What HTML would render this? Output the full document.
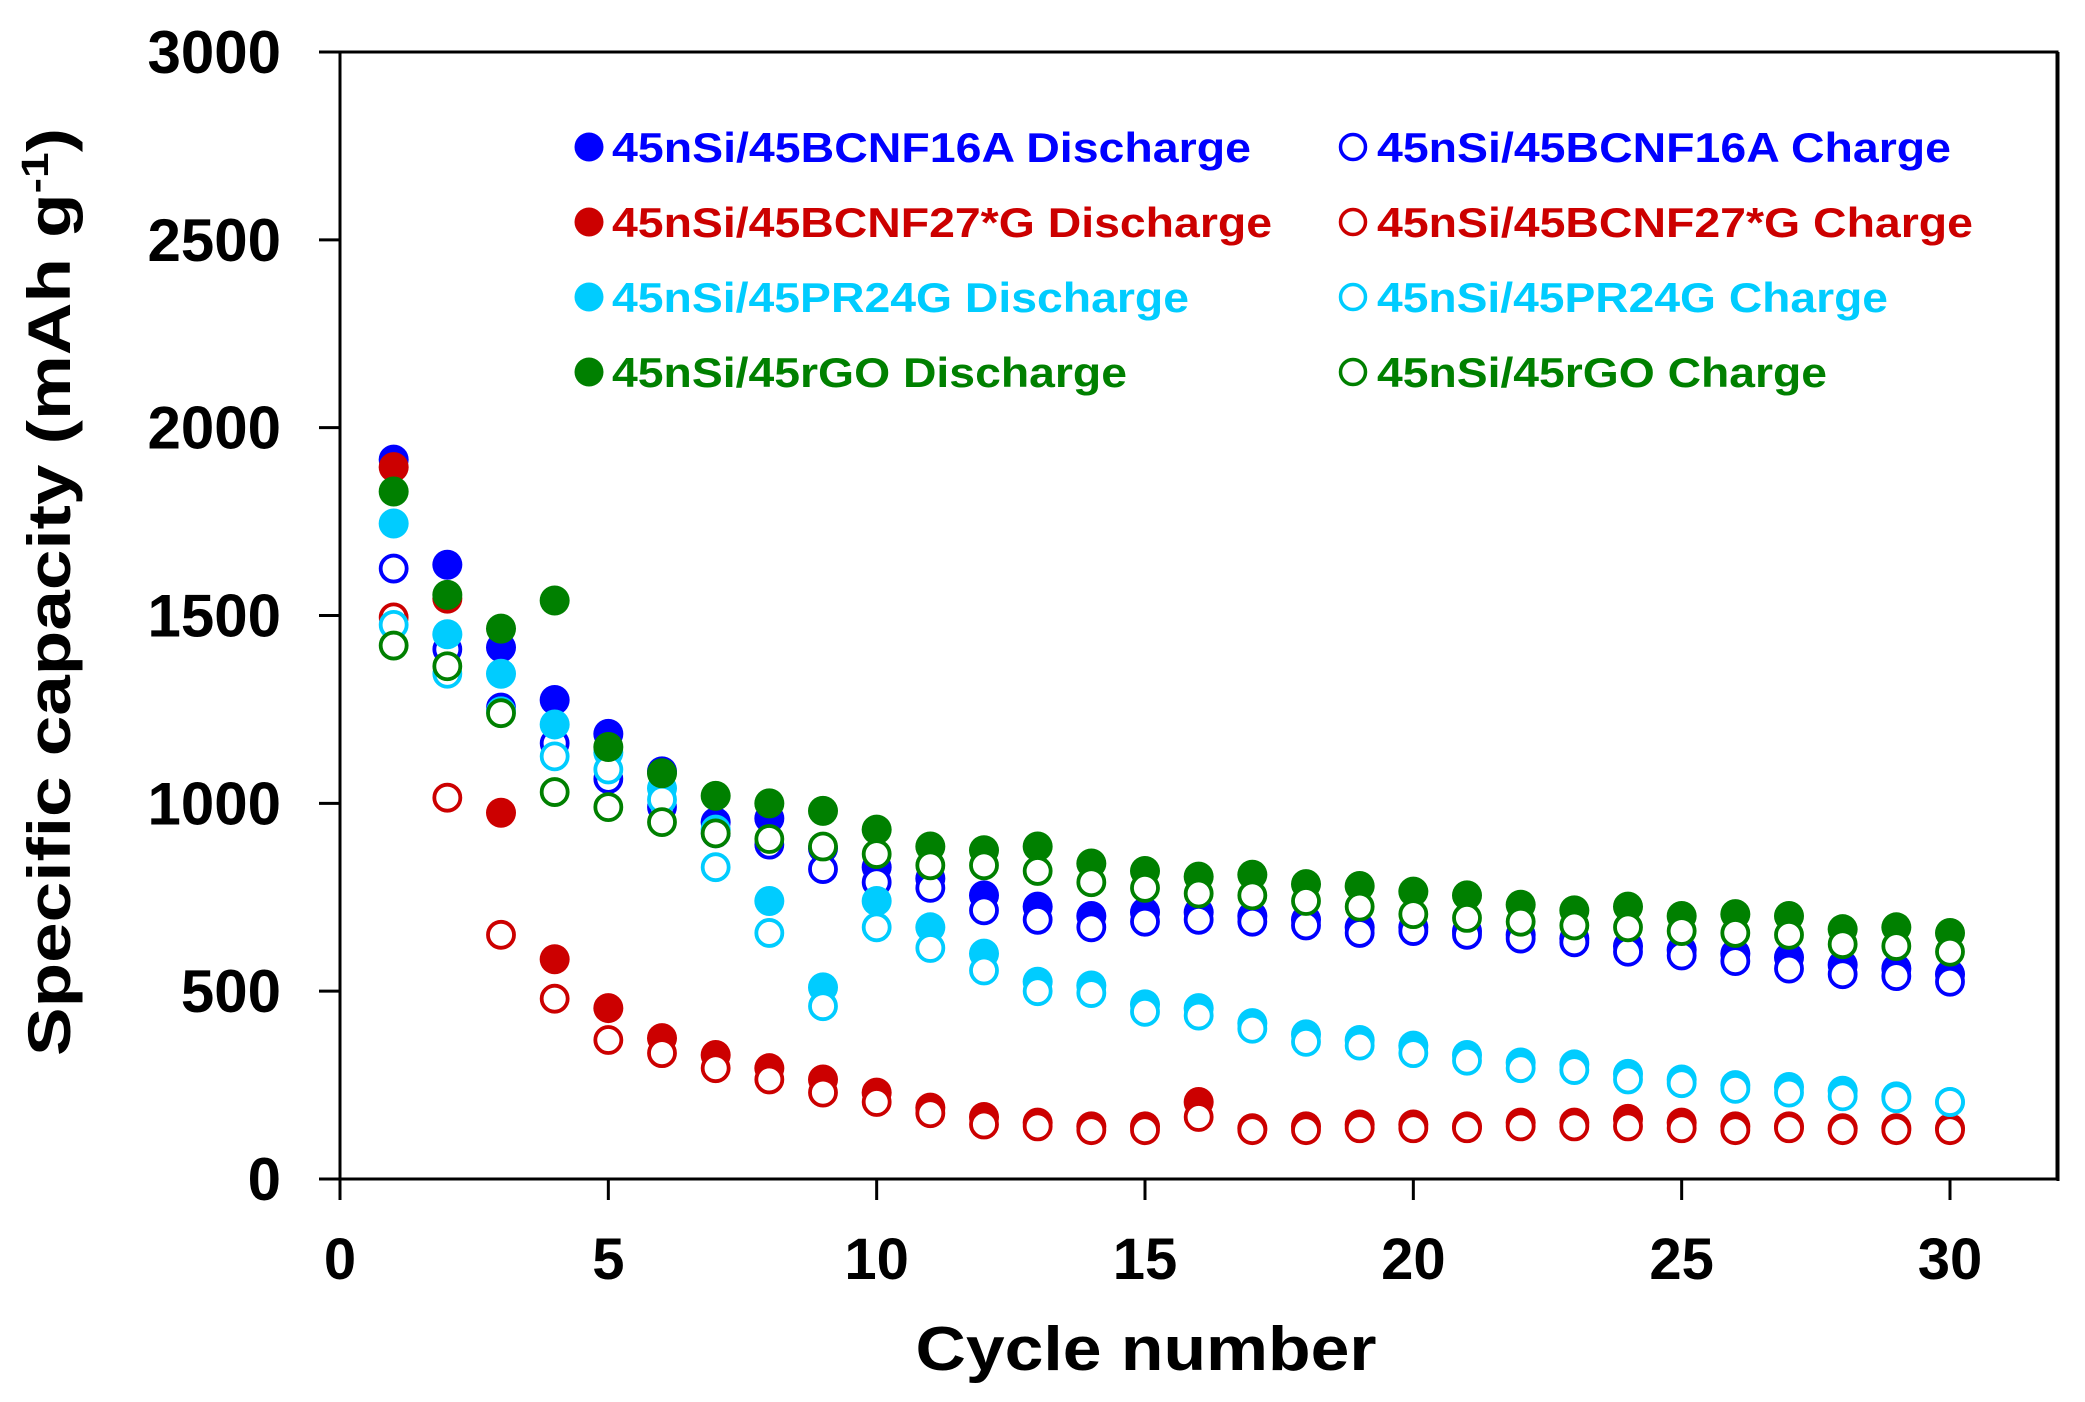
<!DOCTYPE html>
<html><head><meta charset="utf-8"><style>
html,body{margin:0;padding:0;background:#fff;}
svg{display:block;font-family:"Liberation Sans",Arial,sans-serif;font-weight:bold;}
</style></head><body>
<svg id="chart" width="2085" height="1402" viewBox="0 0 2085 1402" xmlns="http://www.w3.org/2000/svg">
<g id="axes"></g>
<g id="marks"></g>
<g id="legend"></g>
</svg>
<script>
const cycles = Array.from({length:30},(_,i)=>i+1);
const blueDis = [1915,1635,1415,1275,1185,1085,950,960,880,830,800,755,725,700,710,710,700,690,670,670,660,650,640,620,610,600,590,570,560,545];
const blueChg = [1625,1410,1255,1160,1065,990,920,890,825,790,775,715,690,670,685,690,685,675,655,660,650,640,630,605,595,580,560,545,540,525];
const redDis = [1895,1545,975,585,455,375,330,295,265,230,190,165,150,140,140,205,135,140,145,145,140,150,150,160,150,140,140,135,135,135];
const redChg = [1495,1015,650,480,370,335,295,265,230,205,175,145,140,130,130,165,130,130,135,135,135,140,140,140,135,130,135,130,130,130];
const cyanDis = [1745,1450,1345,1210,1135,1040,930,740,510,740,670,600,525,515,465,455,415,385,370,355,330,310,305,280,265,250,245,235,220,205];
const cyanChg = [1475,1345,1245,1125,1090,1010,830,655,460,670,615,555,500,495,445,435,400,365,355,335,315,295,290,265,255,240,230,220,215,205];
const greenDis = [1830,1555,1465,1540,1150,1080,1020,1000,980,930,885,875,885,840,820,805,810,785,780,765,755,730,715,725,700,705,700,665,670,655];
const greenChg = [1420,1365,1240,1030,990,950,920,905,885,865,835,835,820,790,775,760,755,740,725,705,695,685,675,670,660,655,650,625,620,605];
const xTicks = [0,5,10,15,20,25,30];
const yTicks = [0,500,1000,1500,2000,2500,3000];
const legendLabels = ["45nSi/45BCNF16A Discharge","45nSi/45BCNF16A Charge","45nSi/45BCNF27*G Discharge","45nSi/45BCNF27*G Charge","45nSi/45PR24G Discharge","45nSi/45PR24G Charge","45nSi/45rGO Discharge","45nSi/45rGO Charge"];

const NS="http://www.w3.org/2000/svg";
const X0=340, X1=2057, Y0=1179, Y1=52;
const xs=v=>X0+v*(1950-340)/30;
const ys=v=>Y0-v*(Y0-Y1)/3000;
function mk(tag,attrs,parent){const e=document.createElementNS(NS,tag);for(const k in attrs)e.setAttribute(k,attrs[k]);parent.appendChild(e);return e;}
const axes=document.getElementById('axes'), marks=document.getElementById('marks'), legend=document.getElementById('legend');

let f=mk('rect',{x:X0,y:Y1,width:X1-X0,height:Y0-Y1,fill:'none',stroke:'#000','stroke-width':3},axes);


let rr=mk('line',{x1:X1+1,y1:Y1,x2:X1+1,y2:Y0+2,stroke:'#000','stroke-width':3},axes);



xTicks.forEach(t=>{
  let l=mk('line',{x1:xs(t),y1:Y0,x2:xs(t),y2:Y0+21,stroke:'#000','stroke-width':3},axes);
  
  
  let tx=mk('text',{x:xs(t),y:Y0+100,'text-anchor':'middle','font-size':58},axes);
  tx.textContent=t;
  
  
});
yTicks.forEach(t=>{
  let l=mk('line',{x1:X0-21,y1:ys(t),x2:X0,y2:ys(t),stroke:'#000','stroke-width':3},axes);
  
  
  let tx=mk('text',{x:281,y:ys(t)+21,'text-anchor':'end','font-size':60},axes);
  tx.textContent=t;
  
  
});
let xt=mk('text',{x:1146,y:1370,'text-anchor':'middle','font-size':62,textLength:461,lengthAdjust:'spacingAndGlyphs'},axes);
xt.textContent='Cycle number';


let yt=mk('text',{x:0,y:0,'text-anchor':'middle','font-size':60,transform:'translate(70,592) rotate(-90)',textLength:928,lengthAdjust:'spacingAndGlyphs'},axes);
yt.innerHTML='Specific capacity  (mAh g<tspan font-size="38" dy="-22">-1</tspan><tspan dy="22">)</tspan>';



const series=[
 [blueDis,'#0000ff',true,'blue-discharge'],[blueChg,'#0000ff',false,'blue-charge'],
 [redDis,'#cc0000',true,'red-discharge'],[redChg,'#cc0000',false,'red-charge'],
 [cyanDis,'#00ccff',true,'cyan-discharge'],[cyanChg,'#00ccff',false,'cyan-charge'],
 [greenDis,'#008000',true,'green-discharge'],[greenChg,'#008000',false,'green-charge']];
series.forEach(([vals,col,filled,name])=>{
  const g=mk('g',{},marks);
  
  
  vals.forEach((v,i)=>{
    const c=mk('circle',{cx:xs(cycles[i]),cy:ys(v),r:filled?15:13,fill:filled?col:'#fff',stroke:col,'stroke-width':filled?0:3.8},g);
    
    
  });
});

const legPos=[[589,612,147,639],[1353,1377,147,574],[589,612,222,660],[1353,1377,222,596],[589,612,297,577],[1353,1377,297,511],[589,612,372,515],[1353,1377,372,450]];
const legCol=['#0000ff','#0000ff','#cc0000','#cc0000','#00ccff','#00ccff','#008000','#008000'];
legendLabels.forEach((lab,i)=>{
  const [mx,tx,yy,w]=legPos[i]; const filled=i%2===0;
  const c=mk('circle',{cx:mx,cy:yy,r:filled?14.5:12.5,fill:filled?legCol[i]:'none',stroke:legCol[i],'stroke-width':filled?0:3.5},legend);
  
  
  const t=mk('text',{x:tx,y:yy+15,'font-size':42,fill:legCol[i],textLength:w,lengthAdjust:'spacingAndGlyphs'},legend);
  t.textContent=lab;
  
  
});
</script>
</body></html>
